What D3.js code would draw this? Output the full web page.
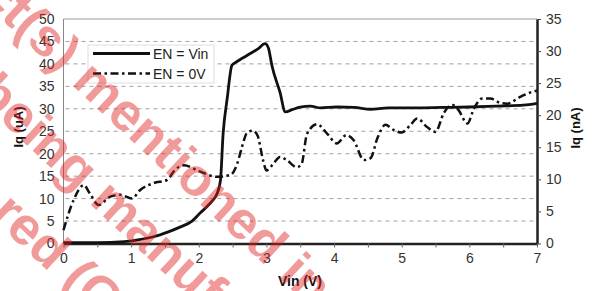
<!DOCTYPE html>
<html>
<head>
<meta charset="utf-8">
<script src="https://cdn.jsdelivr.net/npm/d3@7"></script>
<style>
  body { margin: 0; background: #fff; }
  svg text { font-family: "Liberation Sans", Arial, sans-serif; }
</style>
</head>
<body>
<svg id="chart" width="592" height="291"></svg>
<script>
// EN = Vin, left axis (uA)
const vinOn = [0,0.5,0.9,1.1,1.33,1.55,1.73,1.9,2.02,2.12,2.2,2.27,2.32,2.36,2.42,2.49,2.54,2.65,2.76,2.88,2.98,3.03,3.08,3.2,3.28,3.38,3.5,3.65,3.8,4.04,4.3,4.54,4.8,5.2,5.6,6.0,6.4,6.8,7.0]
const iqOn = [0.2,0.2,0.4,0.8,1.5,2.6,3.7,5.0,6.8,8.2,9.5,11.1,14,24.5,32.3,39.7,40.3,41.3,42.3,43.4,44.5,43.5,39.7,33.7,29.3,29.8,30.4,30.6,30.2,30.4,30.3,29.9,30.2,30.2,30.3,30.4,30.6,30.8,31.2]
// EN = 0V, right axis (nA)
const vinOff = [0,0.15,0.3,0.39,0.52,0.69,0.84,1.01,1.13,1.33,1.53,1.65,1.78,2.02,2.27,2.47,2.57,2.64,2.71,2.8,2.87,2.95,3.0,3.1,3.2,3.3,3.45,3.52,3.6,3.75,3.9,4.04,4.18,4.29,4.44,4.54,4.64,4.76,4.88,5.0,5.13,5.23,5.37,5.5,5.62,5.75,5.84,5.97,6.07,6.19,6.31,6.46,6.56,6.76,6.95,7.0]
const iqOff = [2.1,6.8,9.1,7.8,6.0,7.3,7.6,7.0,8.3,9.4,9.9,11.5,12.2,11.2,10.4,10.7,12.5,15.1,17.2,17.6,16.8,13.0,11.4,12.4,13.5,13.0,11.9,12.4,17.1,18.6,17.1,15.6,16.9,16.1,13.0,13.3,16.4,18.5,17.7,17.3,18.5,19.5,18.2,17.4,20.3,21.6,20.8,18.7,21.1,22.6,22.6,21.9,21.8,22.9,23.7,23.8]

const xTicks = [0,1,2,3,4,5,6,7]
const xMinorTicks = [0,0.5,1,1.5,2,2.5,3,3.5,4,4.5,5,5.5,6,6.5,7]
const leftTicks = [0,5,10,15,20,25,30,35,40,45,50]
const rightTicks = [0,5,10,15,20,25,30,35]
const seriesNames = ["EN = Vin", "EN = 0V"]
const watermark = ["Product(s) mentioned in this", "being manufactured", "red (Obsolete)"]

const svg = d3.select("#chart")
const plotL = 63.5, plotR = 537, plotT = 19, plotB = 243.5

const x = d3.scaleLinear().domain([0, 7]).range([plotL, plotR])
const yL = d3.scaleLinear().domain([0, 50]).range([plotB, plotT])
const yR = d3.scaleLinear().domain([0, 35]).range([plotB, plotT])

// grid
svg.append("g")
  .selectAll("line")
  .data(leftTicks.filter(d => d > 0 && d < 50))
  .enter().append("line")
    .attr("x1", plotL + 2).attr("x2", plotR - 2)
    .attr("y1", d => yL(d)).attr("y2", d => yL(d))
    .attr("stroke", "#a0a0a0")
    .attr("stroke-width", 1)
    .attr("stroke-dasharray", "4,4")

// frame: top and left grey
svg.append("line").attr("x1", plotL).attr("x2", plotR).attr("y1", plotT).attr("y2", plotT)
  .attr("stroke", "#999").attr("stroke-width", 1)
svg.append("line").attr("x1", plotL).attr("x2", plotL).attr("y1", plotT).attr("y2", plotB)
  .attr("stroke", "#888").attr("stroke-width", 1)

// left axis labels (no tick marks)
const gL = svg.append("g")
  .attr("transform", "translate(" + plotL + ",0)")
  .call(d3.axisLeft(yL).tickValues(leftTicks).tickSize(0).tickPadding(9))
gL.select(".domain").remove()
gL.selectAll("text").style("font-size", "14px").attr("fill", "#333")

// right axis
const gR = svg.append("g")
  .attr("transform", "translate(" + plotR + ",0)")
  .call(d3.axisRight(yR).tickValues(rightTicks).tickSize(4).tickPadding(5).tickSizeOuter(0))
gR.select(".domain").attr("stroke", "#222").attr("stroke-width", 2.5)
gR.selectAll(".tick line").attr("stroke", "#444")
gR.selectAll("text").style("font-size", "14px").attr("fill", "#333")

// bottom axis
const gB = svg.append("g")
  .attr("transform", "translate(0," + plotB + ")")
  .call(d3.axisBottom(x).tickValues(xMinorTicks).tickSize(4).tickPadding(6).tickSizeOuter(0)
    .tickFormat(d => xTicks.includes(d) ? d3.format("d")(d) : ""))
gB.select(".domain").attr("stroke", "#222").attr("stroke-width", 2.5)
gB.selectAll(".tick line").attr("stroke", "#666")
gB.selectAll("text").style("font-size", "14px").attr("fill", "#333")

// lines
const lineOn = d3.line().x(d => x(d[0])).y(d => yL(d[1])).curve(d3.curveMonotoneX)
const lineOff = d3.line().x(d => x(d[0])).y(d => yR(d[1])).curve(d3.curveMonotoneX)

svg.append("path")
  .datum(d3.zip(vinOff, iqOff))
  .attr("d", lineOff)
  .attr("fill", "none")
  .attr("stroke", "#111")
  .attr("stroke-width", 2.5)
  .attr("stroke-dasharray", "8,3.5,2.5,3.5")

svg.append("path")
  .datum(d3.zip(vinOn, iqOn))
  .attr("d", lineOn)
  .attr("fill", "none")
  .attr("stroke", "#111")
  .attr("stroke-width", 2.8)

// axis titles
svg.append("text")
  .attr("transform", "translate(23,127) rotate(-90)")
  .attr("text-anchor", "middle")
  .style("font-size", "13px").style("font-weight", "bold")
  .attr("fill", "#111")
  .text("Iq (uA)")
svg.append("text")
  .attr("transform", "translate(580,128) rotate(-90)")
  .attr("text-anchor", "middle")
  .style("font-size", "13px").style("font-weight", "bold")
  .attr("fill", "#111")
  .text("Iq (nA)")
svg.append("text")
  .attr("x", 300).attr("y", 286)
  .attr("text-anchor", "middle")
  .style("font-size", "14px").style("font-weight", "bold")
  .attr("fill", "#111")
  .text("Vin (V)")

// legend
const lg = svg.append("g")
lg.append("rect")
  .attr("x", 88).attr("y", 45).attr("width", 126).attr("height", 38)
  .attr("fill", "#fff").attr("stroke", "#ddd").attr("stroke-width", 1)
const legRows = lg.selectAll("g.row")
  .data(seriesNames)
  .enter().append("g")
    .attr("class", "row")
    .attr("transform", (d, i) => "translate(0," + (53.5 + i * 20) + ")")
legRows.append("line")
  .attr("x1", 93).attr("x2", 150).attr("y1", 0).attr("y2", 0)
  .attr("stroke", "#111")
  .attr("stroke-width", (d, i) => i === 0 ? 3 : 2.5)
  .attr("stroke-dasharray", (d, i) => i === 0 ? null : "8,3.5,2.5,3.5")
legRows.append("text")
  .attr("x", 153).attr("y", 5)
  .style("font-size", "14px")
  .attr("fill", "#222")
  .text(d => d)

// watermark
const wmPos = [[-134, -107], [-26, 96], [-11, 216]]
svg.append("g")
  .selectAll("text")
  .data(watermark)
  .enter().append("text")
    .attr("transform", (d, i) => "translate(" + wmPos[i][0] + "," + wmPos[i][1] + ") rotate(43)")
    .style("font-size", "53px").style("font-weight", "bold")
    .attr("fill", "#e02020")
    .attr("fill-opacity", 0.45)
    .text(d => d)
</script>
</body>
</html>
